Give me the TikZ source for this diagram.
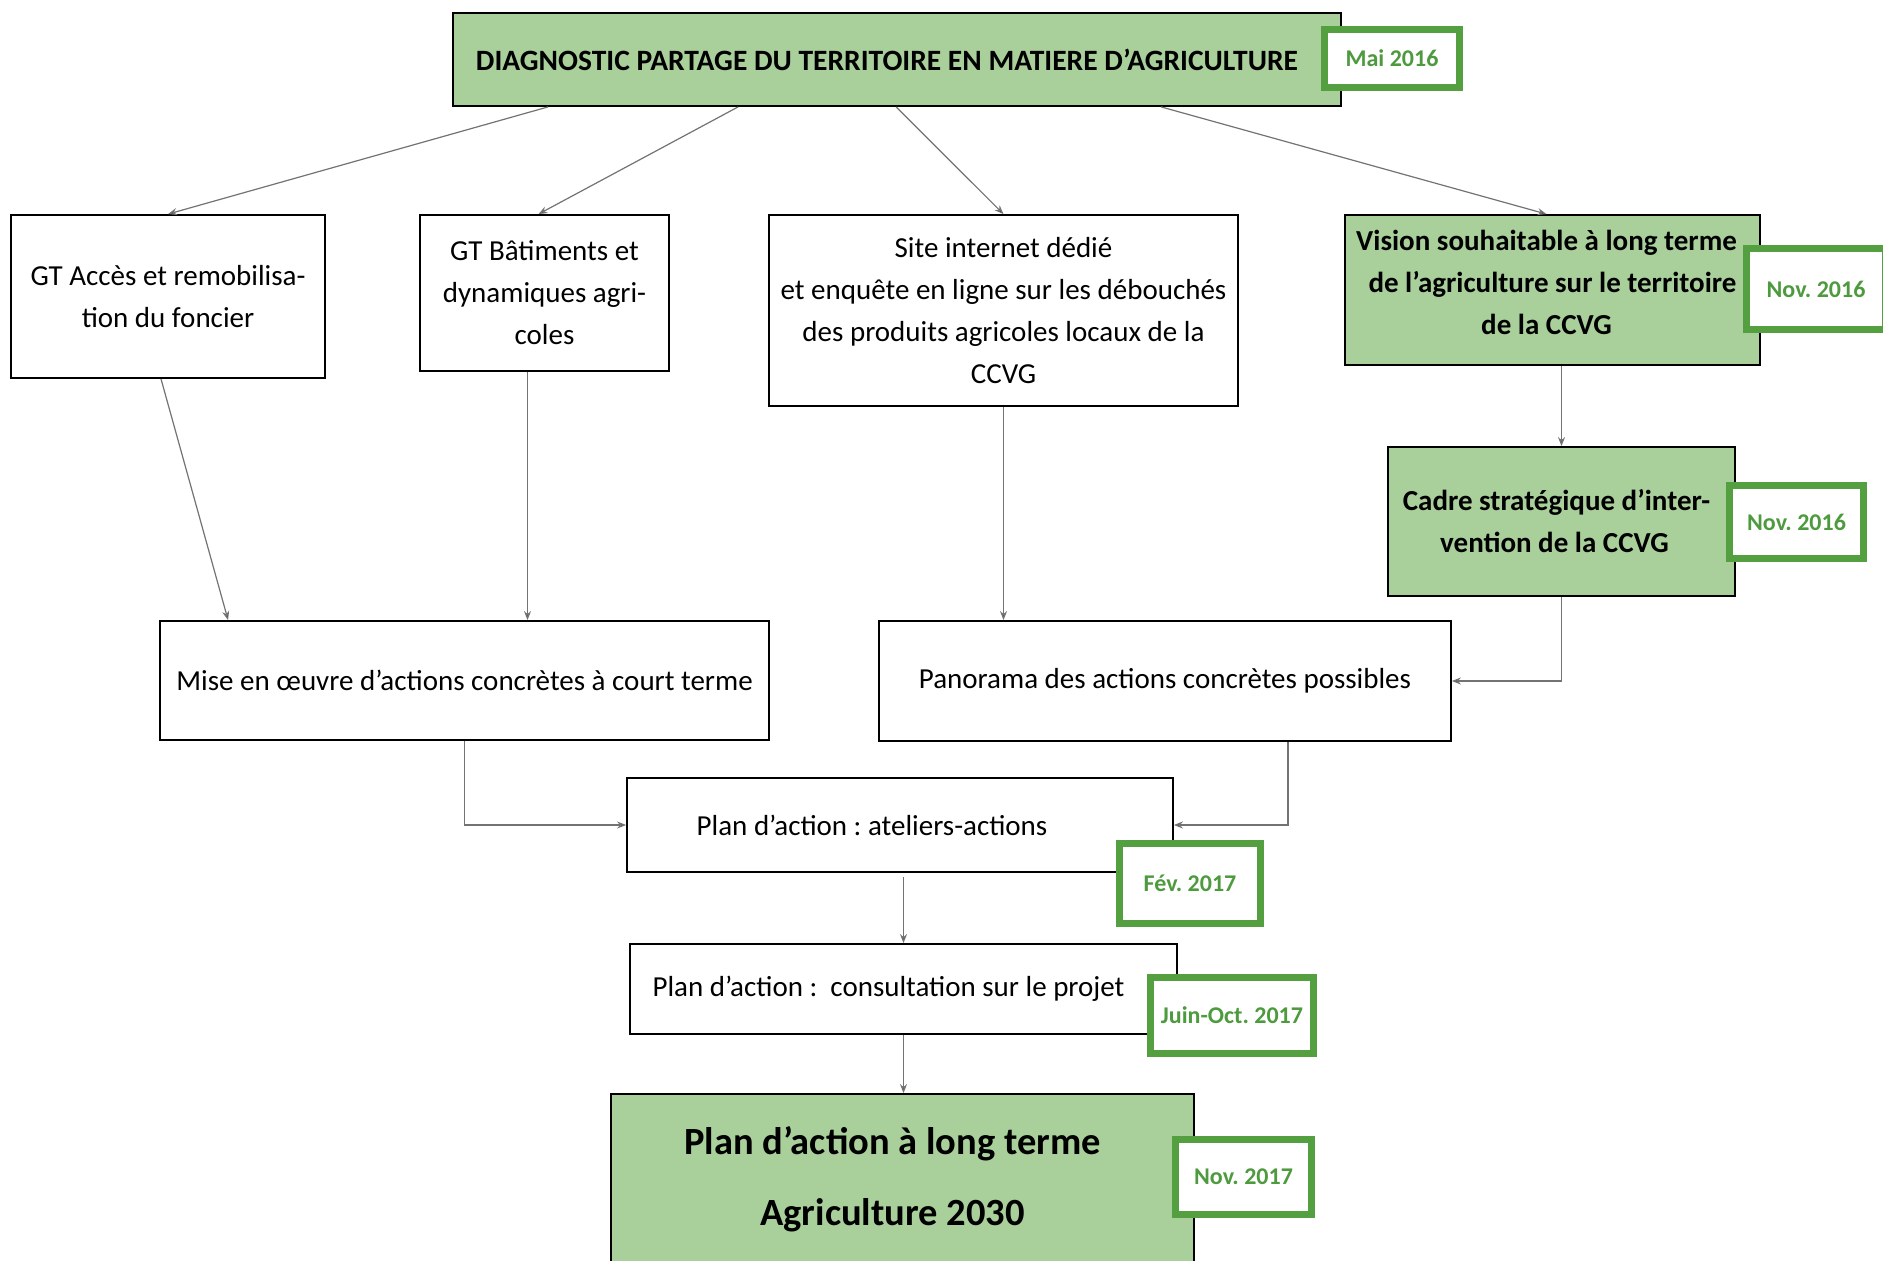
\documentclass[tikz,border=0pt]{standalone}
\usepackage{fontspec}
\setmainfont{Carlito}
\frenchspacing
\usetikzlibrary{arrows.meta,calc}

\definecolor{vertclair}{HTML}{A9D09B}
\definecolor{vertdate}{HTML}{54A040}
\definecolor{textedate}{HTML}{4E9A3E}

\tikzset{
	boite/.style={draw=black, line width=1.8pt, align=center, font=\fontsize{29}{42}\selectfont},
	boiteverte/.style={boite, fill=vertclair, font=\fontsize{29}{42}\selectfont\bfseries},
	date/.style={draw=vertdate, line width=7pt, fill=white, text=textedate, font=\fontsize{24}{29}\selectfont\bfseries},
	fleche/.style={draw=black!55, line width=1.2pt, -{Stealth[length=9pt,width=7pt,fill=black]}}
}

\begin{document}
\begin{tikzpicture}[x=1pt, y=-1pt]
	\clip (0, 0) rectangle (1883, 1261);
	\fill[white] (0, 0) rectangle (1883, 1261);

	\node[boiteverte, minimum width=888pt, minimum height=93pt, font=\fontsize{29.5}{42}\selectfont\bfseries] (diag) at (897, 59.5) {DIAGNOSTIC PARTAGE DU TERRITOIRE EN MATIERE D’AGRICULTURE\hspace*{20pt}};
	\node[boite, minimum width=314pt, minimum height=163pt] (gtacces) at (168, 296.5) {GT Accès et remobilisa-\\tion du foncier};
	\node[boite, minimum width=249pt, minimum height=156pt] (gtbat) at (544.5, 293) {GT Bâtiments et\\dynamiques agri-\\coles};
	\node[boite, minimum width=469pt, minimum height=191pt] (site) at (1003.5, 310.5) {Site internet dédié\\et enquête en ligne sur les débouchés\\des produits agricoles locaux de la\\CCVG};
	\node[boiteverte, minimum width=415pt, minimum height=150pt] (vision) at (1552.5, 290) {Vision souhaitable à long terme\hspace*{12pt}\\de l’agriculture sur le territoire\hspace*{12pt}\\de la CCVG\hspace*{12pt}\vphantom{p}\\[-26pt]};
	\node[boiteverte, minimum width=347pt, minimum height=149pt] (cadre) at (1561.5, 521.5) {Cadre stratégique d’inter-\hspace*{10pt}\\vention de la CCVG\hspace*{14pt}};
	\node[boite, minimum width=609pt, minimum height=119pt] (mise) at (464.5, 680.5) {Mise en œuvre d’actions concrètes à court terme};
	\node[boite, minimum width=572pt, minimum height=120pt] (pano) at (1165, 681) {Panorama des actions concrètes possibles};
	\node[boite, minimum width=546pt, minimum height=94pt] (ateliers) at (900, 825) {Plan d’action : ateliers-actions\hspace*{56pt}};
	\node[boite, minimum width=547pt, minimum height=90pt] (consult) at (903.5, 989) {Plan d’action :~ consultation sur le projet\hspace*{30pt}};
	\node[boiteverte, minimum width=583pt, minimum height=170pt, font=\fontsize{38.5}{71}\selectfont\bfseries] (plan) at (902.5, 1179) {Plan d’action à long terme\hspace*{20pt}\\Agriculture 2030\hspace*{20pt}};

	% dates
	\node[date, minimum width=135pt, minimum height=58pt] (mai) at (1392, 58.5) {Mai 2016};
	\node[date, minimum width=139pt, minimum height=81pt] (nova) at (1816, 289) {Nov. 2016};
	\node[date, minimum width=134pt, minimum height=73pt] (novb) at (1796.5, 522) {Nov. 2016};
	\node[date, minimum width=141pt, minimum height=80pt] (fev) at (1190, 883.5) {Fév. 2017};
	\node[date, minimum width=163pt, minimum height=76pt] (juin) at (1232, 1015.5) {Juin-Oct. 2017};
	\node[date, minimum width=136pt, minimum height=75pt] (novc) at (1243.5, 1177) {Nov. 2017};

	% fleches
	\draw[fleche] ($(diag.south west)+(96, 0)$) -- (gtacces.north);
	\draw[fleche] ($(diag.south west)+(286, 0)$) -- ($(gtbat.north)+(-6, 0)$);
	\draw[fleche] ($(diag.south west)+(444, 0)$) -- (site.north);
	\draw[fleche] ($(diag.south west)+(709, 0)$) -- ($(vision.north)+(-6, 0)$);
	\draw[fleche] ($(gtacces.south)+(-7, 0)$) -- ($(mise.north west)+(69, 0)$);
	\draw[fleche] ($(gtbat.south)+(-17, 0)$) coordinate (b) -- (b |- mise.north);
	\draw[fleche] (site.south) -- (site.south |- pano.north);
	\draw[fleche] (cadre.north |- vision.south) -- (cadre.north);
	\draw[fleche] (cadre.south) |- (pano.east);
	\draw[fleche] (mise.south) |- (ateliers.west);
	\draw[fleche] ($(pano.south east)+(-164, 0)$) |- (ateliers.east);
	\draw[fleche] ($(consult.north |- ateliers.south)+(0, 4)$) -- (consult.north);
	\draw[fleche] (consult.south) -- (consult.south |- plan.north);
\end{tikzpicture}
\end{document}
